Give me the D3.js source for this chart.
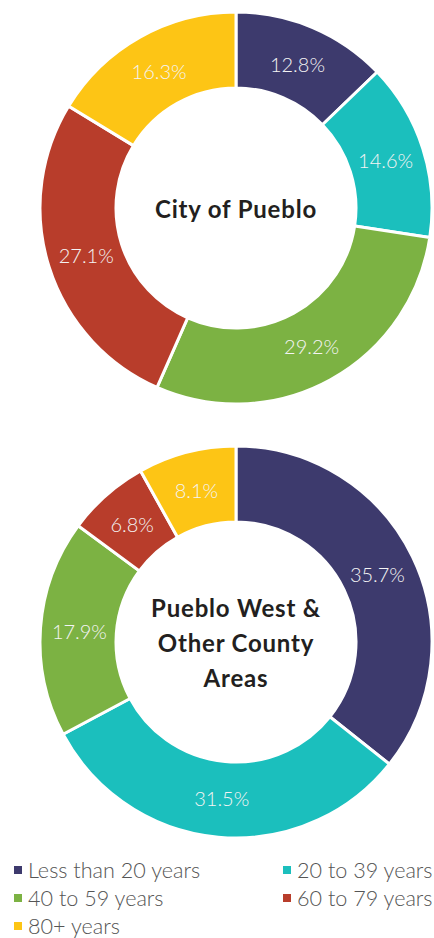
<!DOCTYPE html>
<html>
<head>
<meta charset="utf-8">
<script src="https://cdn.jsdelivr.net/npm/d3@7"></script>
<style>
  html, body { margin: 0; padding: 0; background: #fff; }
  svg { display: block; }
</style>
</head>
<body>
<svg id="chart" width="434" height="938"></svg>
<script>
// Age groups and their shares (%) for each area
const ageGroups = ["Less than 20 years", "20 to 39 years", "40 to 59 years", "60 to 79 years", "80+ years"];
const cityValues = [12.8, 14.6, 29.2, 27.1, 16.3];
const countyValues = [35.7, 31.5, 17.9, 6.8, 8.1];
const groupColors = ["#3d3a6d", "#1bbfbd", "#7cb243", "#b83d2b", "#fdc515"];
const cityTitle = ["City of Pueblo"];
const countyTitle = ["Pueblo West &", "Other County", "Areas"];

const svg = d3.select("#chart");
const color = d3.scaleOrdinal().domain(ageGroups).range(groupColors);

const outerR = 196, innerR = 120;
const pie = d3.pie().sort(null).value(d => d.value);
const arc = d3.arc().innerRadius(innerR).outerRadius(outerR);
const labelArc = d3.arc().innerRadius(157).outerRadius(157);

function donut(values, titleLines, cx, cy) {
  const data = ageGroups.map((g, i) => ({ group: g, value: values[i] }));
  const g = svg.append("g").attr("transform", `translate(${cx},${cy})`);
  const arcs = pie(data);

  g.selectAll("path.slice")
    .data(arcs)
    .join("path")
    .attr("class", "slice")
    .attr("d", arc)
    .attr("fill", d => color(d.data.group))
    .attr("stroke", "#fff")
    .attr("stroke-width", 3)
    .attr("stroke-linejoin", "miter");

  g.selectAll("text.pct")
    .data(arcs)
    .join("text")
    .attr("class", "pct")
    .attr("transform", d => `translate(${labelArc.centroid(d)})`)
    .attr("text-anchor", "middle")
    .attr("dominant-baseline", "central")
    .attr("font-family", "Lato, 'Open Sans', sans-serif")
    .attr("font-weight", 300)
    .attr("font-size", 20)
    .attr("fill", "#f4f4f4")
    .text(d => d.data.value.toFixed(1) + "%");

  const lh = 35;
  const t = g.append("text")
    .attr("text-anchor", "middle")
    .attr("font-family", "Lato, 'Open Sans', sans-serif")
    .attr("font-weight", 700)
    .attr("font-size", 24)
    .attr("letter-spacing", 0.8)
    .attr("fill", "#231f20");
  titleLines.forEach((line, i) => {
    t.append("tspan")
      .attr("x", 0)
      .attr("y", (i - (titleLines.length - 1) / 2) * lh + 10)
      .text(line);
  });
}

donut(cityValues, cityTitle, 236, 208);
donut(countyValues, countyTitle, 236, 642);

// Legend: two columns, three rows
const legendCols = [14, 283];
const legendRows = [870, 898, 926];
const legend = svg.append("g");
ageGroups.forEach((g, i) => {
  const x = legendCols[i % 2];
  const y = legendRows[Math.floor(i / 2)];
  legend.append("rect")
    .attr("x", x).attr("y", y - 4)
    .attr("width", 8).attr("height", 8)
    .attr("fill", color(g));
  legend.append("text")
    .attr("x", x + 14).attr("y", y)
    .attr("dominant-baseline", "central")
    .attr("font-family", "Lato, 'Open Sans', sans-serif")
    .attr("font-weight", 300)
    .attr("font-size", 21.6)
    .attr("fill", "#555")
    .text(g);
});
</script>
</body>
</html>
